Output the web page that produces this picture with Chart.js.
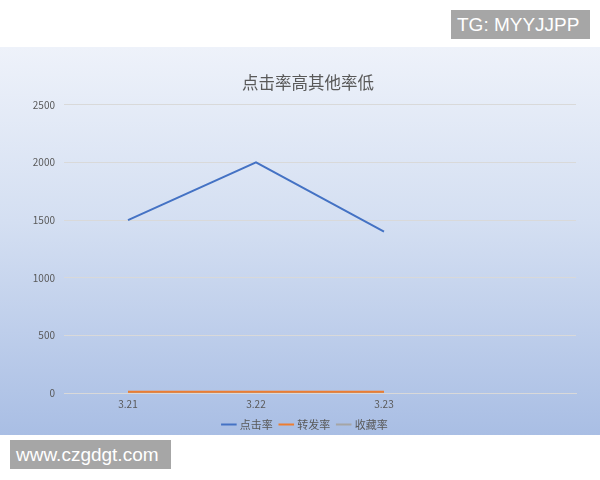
<!DOCTYPE html>
<html>
<head>
<meta charset="utf-8">
<script src="https://cdn.jsdelivr.net/npm/chart.js@4"></script>
<style>
    html, body { margin: 0; padding: 0; background: #ffffff; }
    .page { position: relative; width: 600px; height: 480px; overflow: hidden; }
    .panel {
        position: absolute; left: 0; top: 47px; width: 600px; height: 388px;
        background: linear-gradient(180deg, #eef2fa 0%, #d4dff2 45%, #a9bee4 100%);
    }
    .mark {
        position: absolute; background: #a6a6a6; color: #ffffff;
        font-family: "Liberation Sans", Arial, sans-serif; font-size: 19px;
        line-height: 29px; padding: 0 6px; white-space: nowrap;
    }
</style>
</head>
<body>
<div class="page">
    <div class="panel"><canvas id="rateChart" width="600" height="388"></canvas></div>
    <div class="mark" style="left:451px; top:10px; width:127px;">TG: MYYJJPP</div>
    <div class="mark" style="left:10px; top:440px; width:149px;">www.czgdgt.com</div>
</div>
<script>
// 数据
const dates = ['3.21', '3.22', '3.23', ''];
const clickRate = [1500, 2000, 1400, null];
const forwardRate = [10, 10, 10, null];
const collectRate = [5, 5, 5, null];
const yTicks = [0, 500, 1000, 1500, 2000, 2500];

const cjkFont = '"Noto Sans CJK SC", "Noto Sans", sans-serif';

// 标题和图例居中于绘图区（去掉左侧坐标轴），图例稍微下移
const centerOnPlot = {
    id: 'centerOnPlot',
    afterLayout(chart) {
        const shift = chart.chartArea.left - 24;
        if (chart.titleBlock) chart.titleBlock.left += shift;
        if (chart.legend) {
            chart.legend.left += shift;
            chart.legend.top += 5;
        }
    }
};

const ctx = document.getElementById('rateChart').getContext('2d');
const rateChart = new Chart(ctx, {
    type: 'line',
    data: {
        labels: dates,
        datasets: [{
            label: '点击率',
            data: clickRate,
            borderColor: '#4472c4',
            backgroundColor: '#4472c4',
            borderWidth: 2,
            pointRadius: 0,
            tension: 0
        }, {
            label: '转发率',
            data: forwardRate,
            borderColor: '#ed7d31',
            backgroundColor: '#ed7d31',
            borderWidth: 2,
            pointRadius: 0,
            tension: 0
        }, {
            label: '收藏率',
            data: collectRate,
            borderColor: '#a5a5a5',
            backgroundColor: '#a5a5a5',
            borderWidth: 2,
            pointRadius: 0,
            tension: 0
        }]
    },
    plugins: [centerOnPlot],
    options: {
        responsive: false,
        animation: false,
        layout: {
            padding: { left: 0, right: 24, top: 0, bottom: 0 }
        },
        plugins: {
            title: {
                display: true,
                text: '点击率高其他率低',
                color: '#595959',
                font: { family: cjkFont, size: 16.5, weight: 'normal' },
                padding: { top: 26, bottom: 12 }
            },
            legend: {
                position: 'bottom',
                labels: {
                    color: '#595959',
                    font: { family: cjkFont, size: 11 },
                    usePointStyle: true,
                    pointStyle: 'line',
                    boxWidth: 18,
                    padding: 3,
                    generateLabels: function(chart) {
                        return Chart.defaults.plugins.legend.labels.generateLabels(chart)
                            .map(item => Object.assign(item, { text: item.text + '  ' }));
                    }
                }
            },
            tooltip: { enabled: false }
        },
        scales: {
            x: {
                offset: true,
                grid: { display: false, drawTicks: false },
                border: { display: true, color: '#d9d9d9', width: 1 },
                afterFit: function(scale) {
                    scale.height = 18;
                },
                ticks: {
                    color: '#595959',
                    font: { family: cjkFont, size: 10 },
                    padding: 5,
                    maxRotation: 0
                }
            },
            y: {
                min: 0,
                max: 2500,
                afterBuildTicks: function(scale) {
                    scale.ticks = yTicks.map(v => ({ value: v }));
                },
                afterFit: function(scale) {
                    scale.width = 64;
                },
                grid: { color: '#d9d9d9', drawTicks: false },
                border: { display: false },
                ticks: {
                    color: '#595959',
                    font: { family: cjkFont, size: 10 },
                    padding: 9,
                    callback: v => String(v)
                }
            }
        }
    }
});
</script>
</body>
</html>
